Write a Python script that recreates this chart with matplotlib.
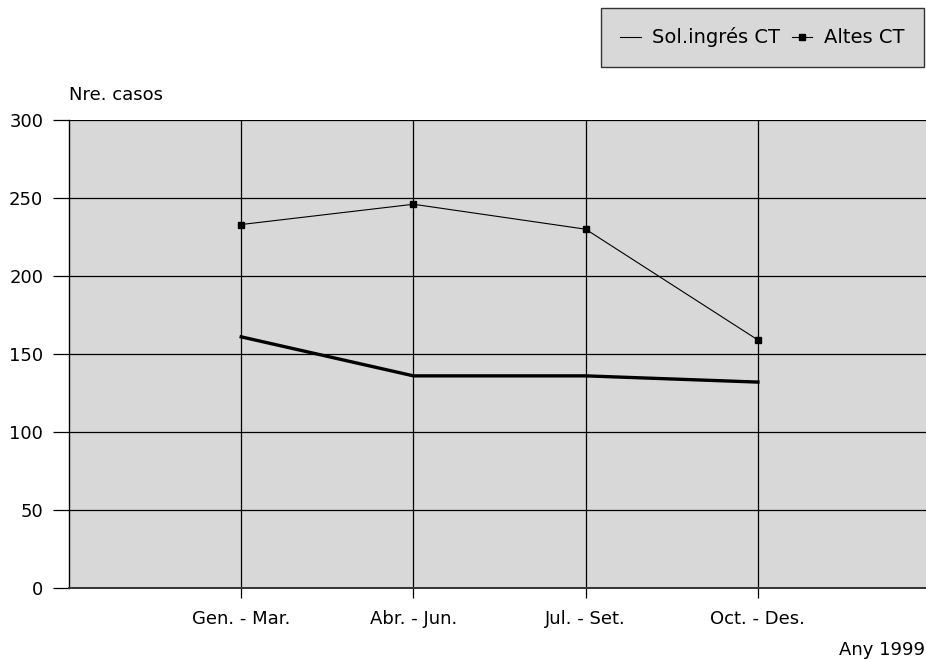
import matplotlib.pyplot as plt
from matplotlib.lines import Line2D

# --- DATA ---
periods = ['Gen. - Mar.', 'Abr. - Jun.', 'Jul. - Set.', 'Oct. - Des.']
altes_ct = [233, 246, 230, 159]        # thin line with square markers
sol_ingres_ct = [161, 136, 136, 132]   # thick line
y_ticks = [0, 50, 100, 150, 200, 250, 300]

GRAY = '#d8d8d8'
FS = 13

plt.rcParams['font.family'] = ['DejaVu Sans']

fig = plt.figure(figsize=(9.26, 6.59), dpi=100)
ax = fig.add_axes([0.0745, 0.1077, 0.93, 0.7102])
ax.set_facecolor(GRAY)

x = list(range(1, len(periods) + 1))
ax.plot(x, altes_ct, color='black', lw=0.8, marker='s', ms=4.5, zorder=3)
ax.plot(x, sol_ingres_ct, color='black', lw=2.4, zorder=3)

ax.set_xlim(0, 5)
ax.set_ylim(0, 300)
ax.set_xticks(x)
ax.set_xticklabels(periods)
ax.set_yticks(y_ticks)

ax.grid(True, color='black', lw=0.9)
ax.set_axisbelow(True)
ax.tick_params(axis='y', length=11.5, width=0.9, pad=7, labelsize=FS)
ax.tick_params(axis='x', length=7.5, width=0.9, pad=8, labelsize=FS)

for s in ['top', 'right']:
    ax.spines[s].set_visible(False)
ax.spines['left'].set_linewidth(1.0)
ax.spines['bottom'].set_linewidth(1.4)
ax.spines['bottom'].set_color('#333333')

fig.text(69 / 926, 1 - 95 / 659, 'Nre. casos', fontsize=FS, va='center', ha='left')
fig.text(925 / 926, 1 - 650 / 659, 'Any 1999', fontsize=FS, va='center', ha='right')

# legend (mapping kept as in the original chart)
handles = [
    Line2D([], [], color='black', lw=0.8),
    Line2D([], [], color='black', lw=0.8, marker='s', ms=4),
]
leg = fig.legend(handles, ['Sol.ingrés CT', 'Altes CT'], loc='upper right',
                 bbox_to_anchor=(924 / 926, 1 - 8 / 659), ncol=2, fontsize=14,
                 frameon=True, fancybox=False, handlelength=1.05, handletextpad=0.6,
                 columnspacing=0.6, borderpad=1.0, borderaxespad=0)
leg.get_frame().set_facecolor(GRAY)
leg.get_frame().set_edgecolor('#333333')
leg.get_frame().set_linewidth(1.0)
leg.get_frame().set_alpha(1)

fig.savefig('out.png', dpi=100)
